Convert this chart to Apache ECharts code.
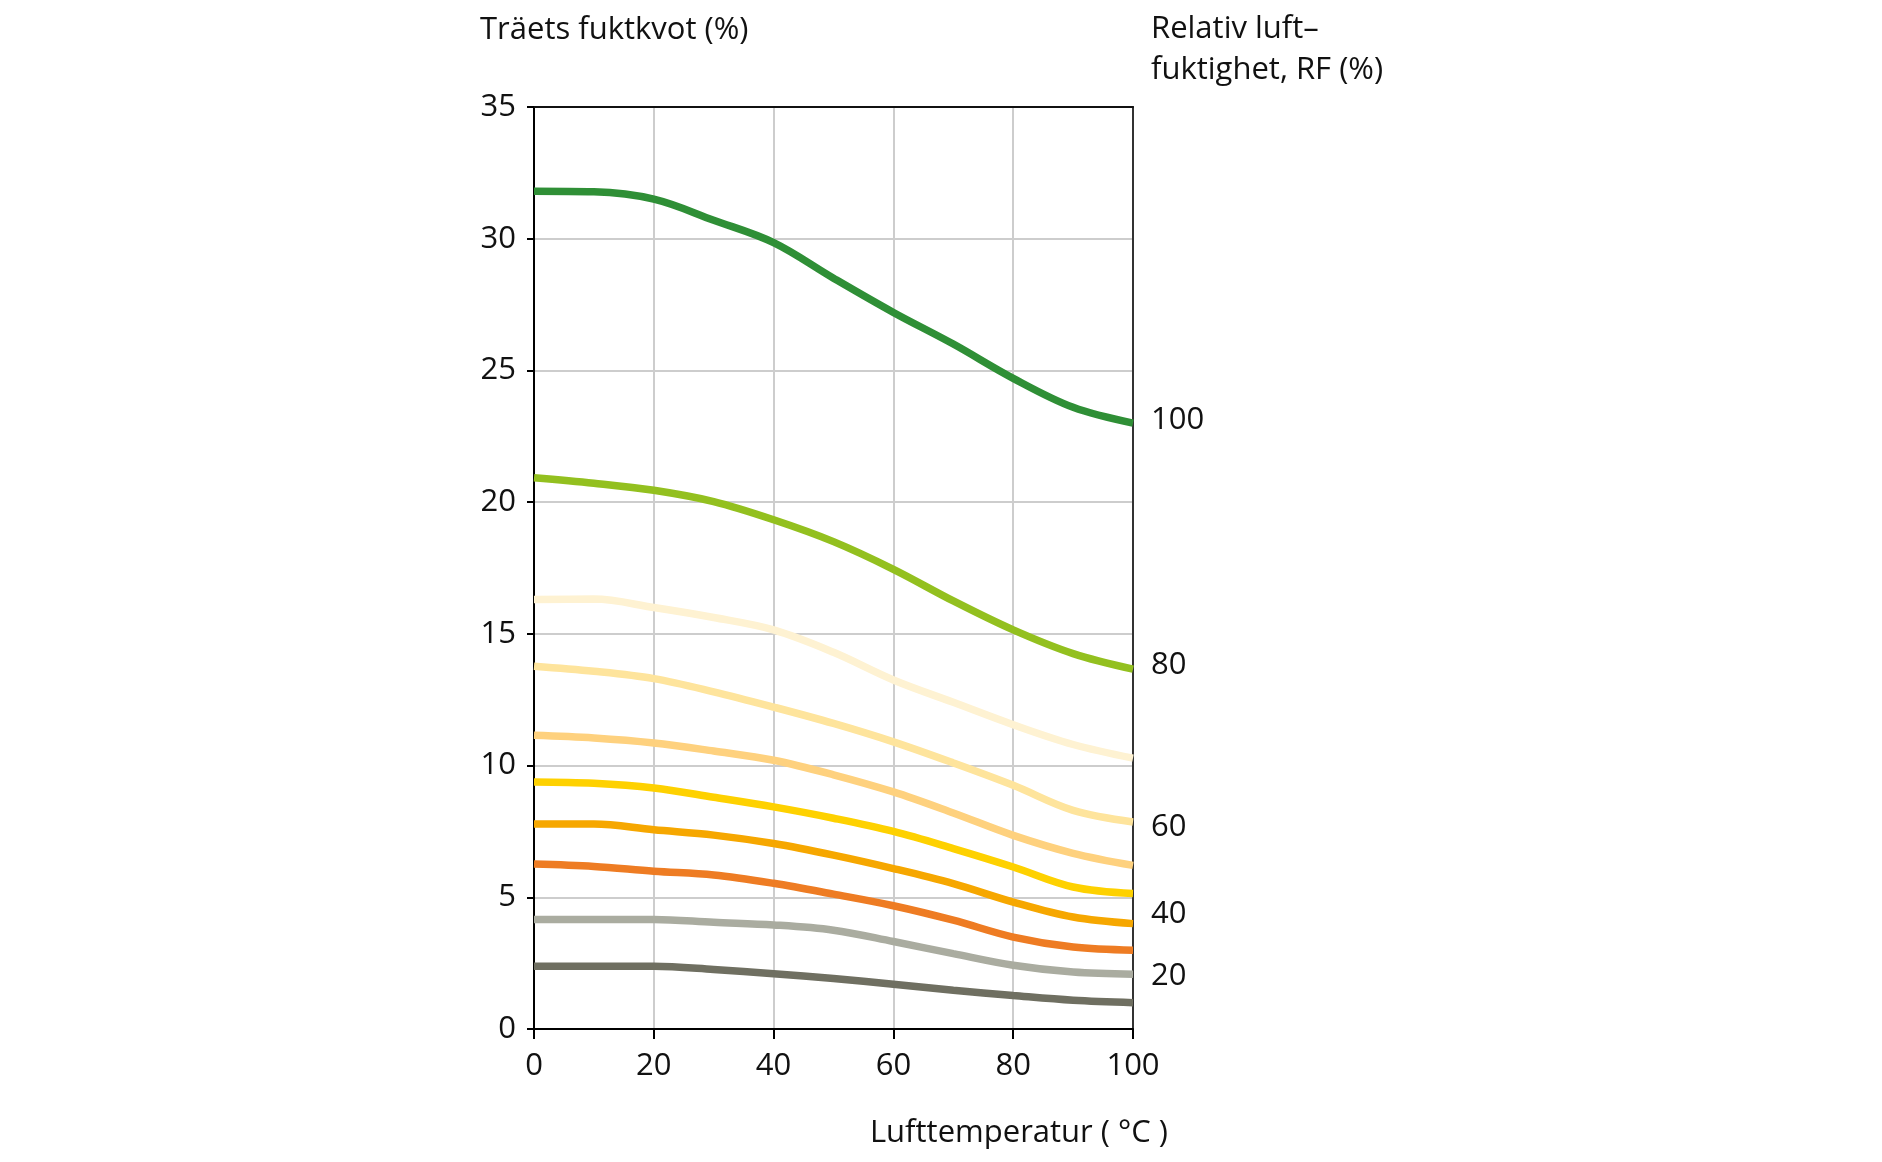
<!DOCTYPE html>
<html><head><meta charset="utf-8">
<script src="https://cdn.jsdelivr.net/npm/echarts@6/dist/echarts.min.js"></script>
<style>html,body{margin:0;padding:0;background:#fff}#c{width:1882px;height:1162px}</style>
</head><body><div id="c"></div>
<script>
// Lufttemperatur (°C)
const temperatures = [0, 10, 20, 30, 40, 50, 60, 70, 80, 90, 100];
// Träets fuktkvot (%) per curve, top to bottom
const curve1 = [31.8, 31.78, 31.5, 30.7, 29.85, 28.5, 27.2, 26.0, 24.7, 23.6, 23.0];
const curve2 = [20.93, 20.72, 20.45, 20.02, 19.33, 18.5, 17.45, 16.25, 15.15, 14.25, 13.66];
const curve3 = [16.3, 16.32, 16.0, 15.62, 15.15, 14.3, 13.25, 12.4, 11.55, 10.8, 10.28];
const curve4 = [13.77, 13.58, 13.3, 12.8, 12.22, 11.6, 10.9, 10.1, 9.25, 8.3, 7.86];
const curve5 = [11.15, 11.05, 10.86, 10.55, 10.2, 9.65, 9.0, 8.2, 7.35, 6.67, 6.21];
const curve6 = [9.38, 9.33, 9.15, 8.8, 8.43, 8.0, 7.5, 6.85, 6.15, 5.39, 5.14];
const curve7 = [7.78, 7.78, 7.56, 7.36, 7.04, 6.6, 6.09, 5.52, 4.82, 4.25, 4.0];
const curve8 = [6.26, 6.17, 5.99, 5.85, 5.53, 5.12, 4.68, 4.13, 3.49, 3.11, 2.99];
const curve9 = [4.16, 4.16, 4.16, 4.05, 3.95, 3.75, 3.32, 2.86, 2.42, 2.16, 2.08];
const curve10 = [2.38, 2.38, 2.38, 2.26, 2.1, 1.92, 1.7, 1.47, 1.27, 1.09, 1.0];
const curves = [curve1, curve2, curve3, curve4, curve5, curve6, curve7, curve8, curve9, curve10];
const curveColors = ['#2f8f36', '#93c01f', '#fef2d2', '#fee49c', '#fed17e', '#fed100', '#f6a700', '#ee7c23', '#aaaca0', '#6f6f61'];

// Relativ luftfuktighet labels at right edge
const rfLabels = ['100', '80', '60', '40', '20'];
const rfLabelValues = [23.1, 13.8, 7.66, 4.35, 2.0];
const rfLabelTemp = 100;

const yTicks = [0, 5, 10, 15, 20, 25, 30, 35];
const xTicks = [0, 20, 40, 60, 80, 100];

const FONT = "'Open Sans', 'Noto Sans', sans-serif";
const FS = 31;
const FW = 400;
const TC = '#111';

const chart = echarts.init(document.getElementById('c'), null, {renderer: 'canvas'});

const lineSeries = curves.map((vals, i) => ({
  type: 'line',
  name: 'Kurva ' + (i + 1),
  xAxisIndex: 0, yAxisIndex: 0,
  data: temperatures.map((t, j) => [t, vals[j]]),
  smooth: 0.35,
  showSymbol: false,
  symbol: 'none',
  lineStyle: {color: curveColors[i], width: 7.5, cap: 'butt'},
  z: 10 - i + 2,
  silent: true
}));

const titleGraphics = [
  {type: 'text', x: 480, y: 30,
   style: {text: 'Träets fuktkvot (%)', font: `${FW} ${FS}px ${FONT}`, fill: TC, verticalAlign: 'middle'}},
  {type: 'text', x: 1151, y: 50,
   style: {text: 'Relativ luft–\nfuktighet, RF (%)', font: `${FW} ${FS}px ${FONT}`, fill: TC, lineHeight: 41, verticalAlign: 'middle'}},
  {type: 'text', x: 1168, y: 1133,
   style: {text: 'Lufttemperatur ( °C )', font: `${FW} ${FS}px ${FONT}`, fill: TC, align: 'right', verticalAlign: 'middle'}}
];

chart.setOption({
  animation: false,
  backgroundColor: '#fff',
  grid: {left: 534, right: 749, top: 107, bottom: 133, containLabel: false},
  xAxis: [{
    type: 'value', min: 0, max: 100, interval: 20, position: 'bottom',
    axisLine: {show: true, onZero: false, lineStyle: {color: '#000', width: 2}},
    axisTick: {show: true, inside: false, length: 10, lineStyle: {color: '#000', width: 2}},
    axisLabel: {margin: 22, fontFamily: FONT, fontSize: FS, fontWeight: FW, color: TC,
                formatter: v => xTicks.includes(v) ? String(v) : ''},
    splitLine: {show: true, lineStyle: {color: '#cdcdcd', width: 2}}
  }, {
    type: 'value', min: 0, max: 100, interval: 20, position: 'top',
    axisLine: {show: true, onZero: false, lineStyle: {color: '#111', width: 2}},
    axisTick: {show: false}, axisLabel: {show: false}, splitLine: {show: false}
  }],
  yAxis: [{
    type: 'value', min: 0, max: 35, interval: 5, position: 'left',
    axisLine: {show: true, onZero: false, lineStyle: {color: '#000', width: 2}},
    axisTick: {show: true, inside: false, length: 7, lineStyle: {color: '#000', width: 2}},
    axisLabel: {margin: 18, fontFamily: FONT, fontSize: FS, fontWeight: FW, color: TC,
                formatter: v => yTicks.includes(v) ? String(v) : ''},
    splitLine: {show: true, lineStyle: {color: '#cdcdcd', width: 2}}
  }, {
    type: 'value', min: 0, max: 35, interval: 5, position: 'right',
    axisLine: {show: true, onZero: false, lineStyle: {color: '#333', width: 2}},
    axisTick: {show: false}, axisLabel: {show: false}, splitLine: {show: false}
  }],
  graphic: titleGraphics,
  series: lineSeries
});

// RF labels placed through the chart's own scale
const rfGraphics = rfLabels.map((t, i) => {
  const p = chart.convertToPixel({gridIndex: 0}, [rfLabelTemp, rfLabelValues[i]]);
  return {type: 'text', x: p[0] + 18, y: p[1],
          style: {text: t, font: `${FW} ${FS}px ${FONT}`, fill: TC, verticalAlign: 'middle'}};
});
chart.setOption({graphic: titleGraphics.concat(rfGraphics)});
</script>
</body></html>
